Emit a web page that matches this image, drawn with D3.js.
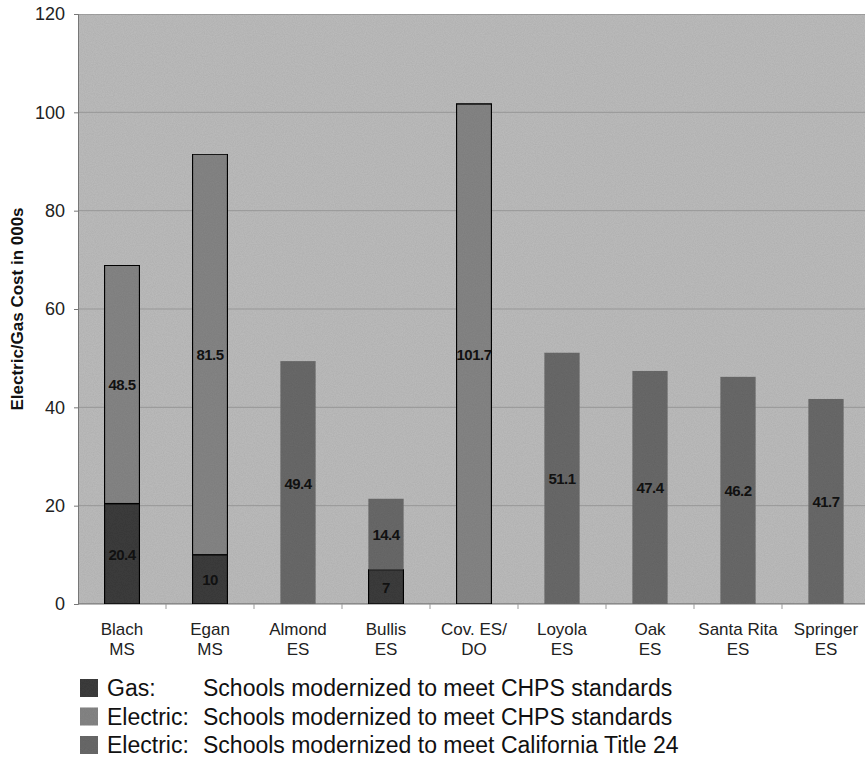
<!DOCTYPE html>
<html>
<head>
<meta charset="utf-8">
<script src="https://cdn.jsdelivr.net/npm/d3@7"></script>
<style>
  body { margin: 0; background: #fff; }
  svg { display: block; font-family: "Liberation Sans", Arial, sans-serif; }
</style>
</head>
<body>
<svg id="chart" width="865" height="759"></svg>
<script>
const categories = ["Blach|MS", "Egan|MS", "Almond|ES", "Bullis|ES", "Cov. ES/|DO", "Loyola|ES", "Oak|ES", "Santa Rita|ES", "Springer|ES"];
const gasCHPS      = [20.4, 10, 0, 7, 0, 0, 0, 0, 0];
const electricCHPS = [48.5, 81.5, 0, 0, 101.7, 0, 0, 0, 0];
const electricT24  = [0, 0, 49.4, 14.4, 0, 51.1, 47.4, 46.2, 41.7];
const yTicks = [0, 20, 40, 60, 80, 100, 120];
const seriesNames = ["Gas:", "Electric:", "Electric:"];
const seriesDesc = ["Schools modernized to meet CHPS standards", "Schools modernized to meet CHPS standards", "Schools modernized to meet California Title 24"];

const svg = d3.select("#chart");
const m = { left: 78, top: 14, right: 870, bottom: 604 };
const colors = ["#3d3d3d", "#868686", "#6b6b6b"];
const borders = [true, true, false];

const x = d3.scaleBand().domain(categories).range([m.left, m.right]).paddingInner(0.6).paddingOuter(0.3);
const xb = d3.scaleBand().domain(categories).range([m.left, m.right]);
const y = d3.scaleLinear().domain([0, 120]).range([m.bottom, m.top]);

// texture filter
const defs = svg.append("defs");
const f = defs.append("filter").attr("id", "noise").attr("x", 0).attr("y", 0).attr("width", "100%").attr("height", "100%");
f.append("feTurbulence").attr("type", "fractalNoise").attr("baseFrequency", 0.9).attr("numOctaves", 2).attr("seed", 3).attr("result", "n");
f.append("feColorMatrix").attr("in", "n").attr("type", "matrix")
  .attr("values", "0 0 0 0 0  0 0 0 0 0  0 0 0 0 0  0 0 0 0.16 0").attr("result", "na");
f.append("feComposite").attr("in", "na").attr("in2", "SourceGraphic").attr("operator", "in").attr("result", "nc");
f.append("feMerge").selectAll("feMergeNode").data(["SourceGraphic", "nc"]).join("feMergeNode").attr("in", d => d);

// plot background
svg.append("rect").attr("x", m.left).attr("y", m.top).attr("width", m.right - m.left).attr("height", m.bottom - m.top)
  .attr("fill", "#bdbdbd").attr("stroke", "#8a8a8a").attr("stroke-width", 1).attr("filter", "url(#noise)");

// gridlines
svg.append("g").selectAll("line").data(yTicks.filter(d => d > 0 && d < 120)).join("line")
  .attr("x1", m.left).attr("x2", m.right).attr("y1", d => y(d)).attr("y2", d => y(d))
  .attr("stroke", "#979797").attr("stroke-width", 1);

// y axis
const yAxis = d3.axisLeft(y).tickValues(yTicks).tickSize(4).tickPadding(9);
const gy = svg.append("g").attr("transform", `translate(${m.left},0)`).call(yAxis);
gy.select(".domain").attr("stroke", "#777");
gy.selectAll(".tick line").attr("stroke", "#777");
gy.selectAll(".tick text").attr("font-size", 18).attr("fill", "#222").attr("font-family", "Liberation Sans, Arial, sans-serif");

// x axis
const gx = svg.append("g").attr("transform", `translate(0,${m.bottom})`);
gx.append("line").attr("x1", m.left).attr("x2", m.right).attr("stroke", "#777");
gx.selectAll(".tk").data(categories.slice(1)).join("line").attr("class", "tk")
  .attr("x1", d => xb(d)).attr("x2", d => xb(d)).attr("y1", 0).attr("y2", 5).attr("stroke", "#999");
const lab = gx.selectAll(".lab").data(categories).join("text").attr("class", "lab")
  .attr("x", d => xb(d) + xb.bandwidth() / 2).attr("y", 31)
  .attr("text-anchor", "middle").attr("font-size", 17).attr("fill", "#222");
lab.each(function(d) {
  const parts = d.split("|");
  const t = d3.select(this);
  parts.forEach((p, i) => t.append("tspan").attr("x", xb(d) + xb.bandwidth() / 2).attr("dy", i === 0 ? 0 : 20).text(p));
});

// stacked bars
const rows = categories.map((c, i) => ({ cat: c, v: [gasCHPS[i], electricCHPS[i], electricT24[i]] }));
const segs = [];
rows.forEach(r => {
  let base = 0;
  r.v.forEach((val, s) => {
    if (val > 0) { segs.push({ cat: r.cat, s, y0: base, y1: base + val, val }); base += val; }
  });
});
const bars = svg.append("g");
bars.selectAll("rect").data(segs).join("rect")
  .attr("x", d => x(d.cat)).attr("width", x.bandwidth())
  .attr("y", d => y(d.y1)).attr("height", d => y(d.y0) - y(d.y1))
  .attr("fill", d => colors[d.s])
  .attr("stroke", d => borders[d.s] ? "#111" : "none").attr("stroke-width", 1.5)
  .attr("filter", "url(#noise)");
bars.selectAll("text").data(segs).join("text")
  .attr("x", d => x(d.cat) + x.bandwidth() / 2).attr("y", d => y((d.y0 + d.y1) / 2) + 6)
  .attr("text-anchor", "middle").attr("font-size", 15).attr("font-weight", "bold").attr("fill", "#111")
  .attr("letter-spacing", -0.5)
  .text(d => d.val);

// y title
svg.append("text").attr("transform", `translate(23,${(m.top + m.bottom) / 2}) rotate(-90)`)
  .attr("text-anchor", "middle").attr("font-size", 17).attr("font-weight", "bold").attr("fill", "#111")
  .text("Electric/Gas Cost in 000s");

// legend
const lg = svg.append("g");
const items = lg.selectAll("g").data(seriesNames.map((n, i) => ({ n, d: seriesDesc[i], i }))).join("g")
  .attr("transform", d => `translate(80,${679 + d.i * 28.5})`);
items.append("rect").attr("x", 0).attr("y", 0).attr("width", 18).attr("height", 18)
  .attr("fill", d => colors[d.i]).attr("filter", "url(#noise)");
items.append("text").attr("x", 27).attr("y", 17).attr("font-size", 23).attr("fill", "#111").text(d => d.n);
items.append("text").attr("x", 123).attr("y", 17).attr("font-size", 23).attr("fill", "#111").text(d => d.d);
</script>
</body>
</html>
